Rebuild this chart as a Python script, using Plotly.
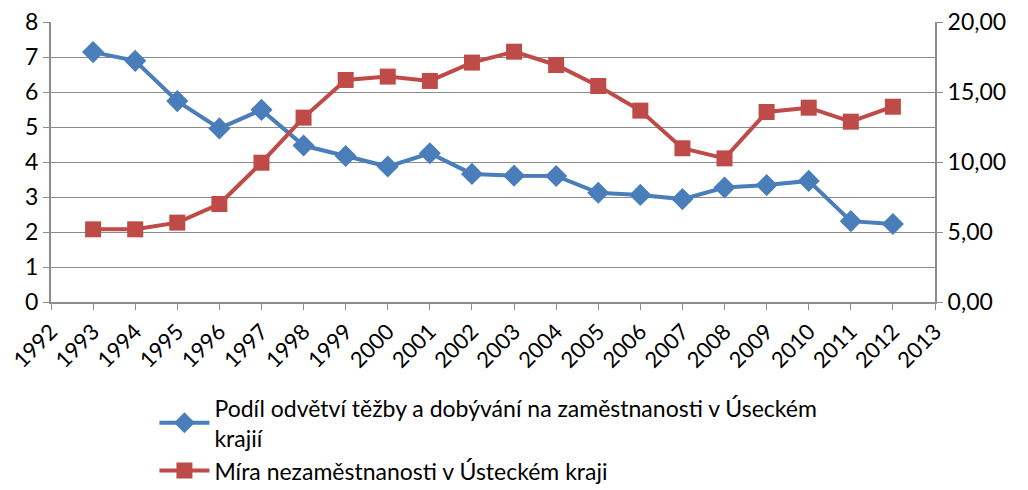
import plotly.graph_objects as go

years = list(range(1993, 2013))
tezba = [7.14, 6.89, 5.74, 4.96, 5.49, 4.47, 4.17, 3.87, 4.25, 3.66,
         3.61, 3.60, 3.12, 3.06, 2.94, 3.27, 3.34, 3.46, 2.31, 2.23]
nezam = [5.19, 5.19, 5.67, 7.00, 9.95, 13.17, 15.86, 16.10, 15.79, 17.10,
         17.88, 16.93, 15.43, 13.67, 10.98, 10.26, 13.57, 13.88, 12.88, 13.95]

name_tezba = "Podíl odvětví těžby a dobývání na zaměstnanosti v Úseckém<br>krajií"
name_nezam = "Míra nezaměstnanosti v Ústeckém kraji"

blue = '#4A7EBB'
red = '#BE4B48'
grid = '#8C8C8C'
font = "Lato, 'Open Sans', sans-serif"

fig = go.Figure()
fig.add_trace(go.Scatter(x=years, y=tezba, name=name_tezba, mode='lines+markers',
                         line=dict(color=blue, width=4),
                         marker=dict(symbol='diamond', size=17, color=blue)))
fig.add_trace(go.Scatter(x=years, y=nezam, name=name_nezam, mode='lines+markers', yaxis='y2',
                         line=dict(color=red, width=4),
                         marker=dict(symbol='square', size=16, color=red)))

# page body has an 8px margin, so the figure is a bit smaller than the window
fig.update_layout(
    width=1020, height=482,
    margin=dict(l=43, r=93, t=14, b=188),
    plot_bgcolor='white', paper_bgcolor='white',
    font=dict(family=font, size=23, color='black'),
    separators=', ',
    showlegend=True,
    legend=dict(orientation='v', x=0.117, xanchor='left', y=0.215, yanchor='top',
                yref='container', font=dict(size=23), tracegroupgap=0, itemwidth=50),
    xaxis=dict(range=[1992, 2013], dtick=1, tick0=1992, tickangle=-45, automargin=False,
               showgrid=False, showline=True, linecolor=grid, linewidth=2,
               ticks='outside', ticklen=6, tickcolor=grid, tickwidth=1,
               tickfont=dict(size=22), ticklabeloverflow='allow'),
    yaxis=dict(range=[0, 8], dtick=1, showgrid=True, gridcolor=grid, gridwidth=1,
               showline=True, linecolor=grid, linewidth=2, zeroline=False, automargin=False,
               ticks='outside', ticklen=6, tickcolor=grid, tickfont=dict(size=23),
               ticklabeloverflow='allow'),
    yaxis2=dict(range=[0, 20], overlaying='y', side='right', automargin=False,
                tickvals=[0, 5, 10, 15, 20], tickformat='.2f', showgrid=False,
                showline=True, linecolor=grid, linewidth=2, zeroline=False,
                ticks='outside', ticklen=6, tickcolor=grid, tickfont=dict(size=23),
                ticklabeloverflow='allow'),
)

fig.write_html("out.html")
